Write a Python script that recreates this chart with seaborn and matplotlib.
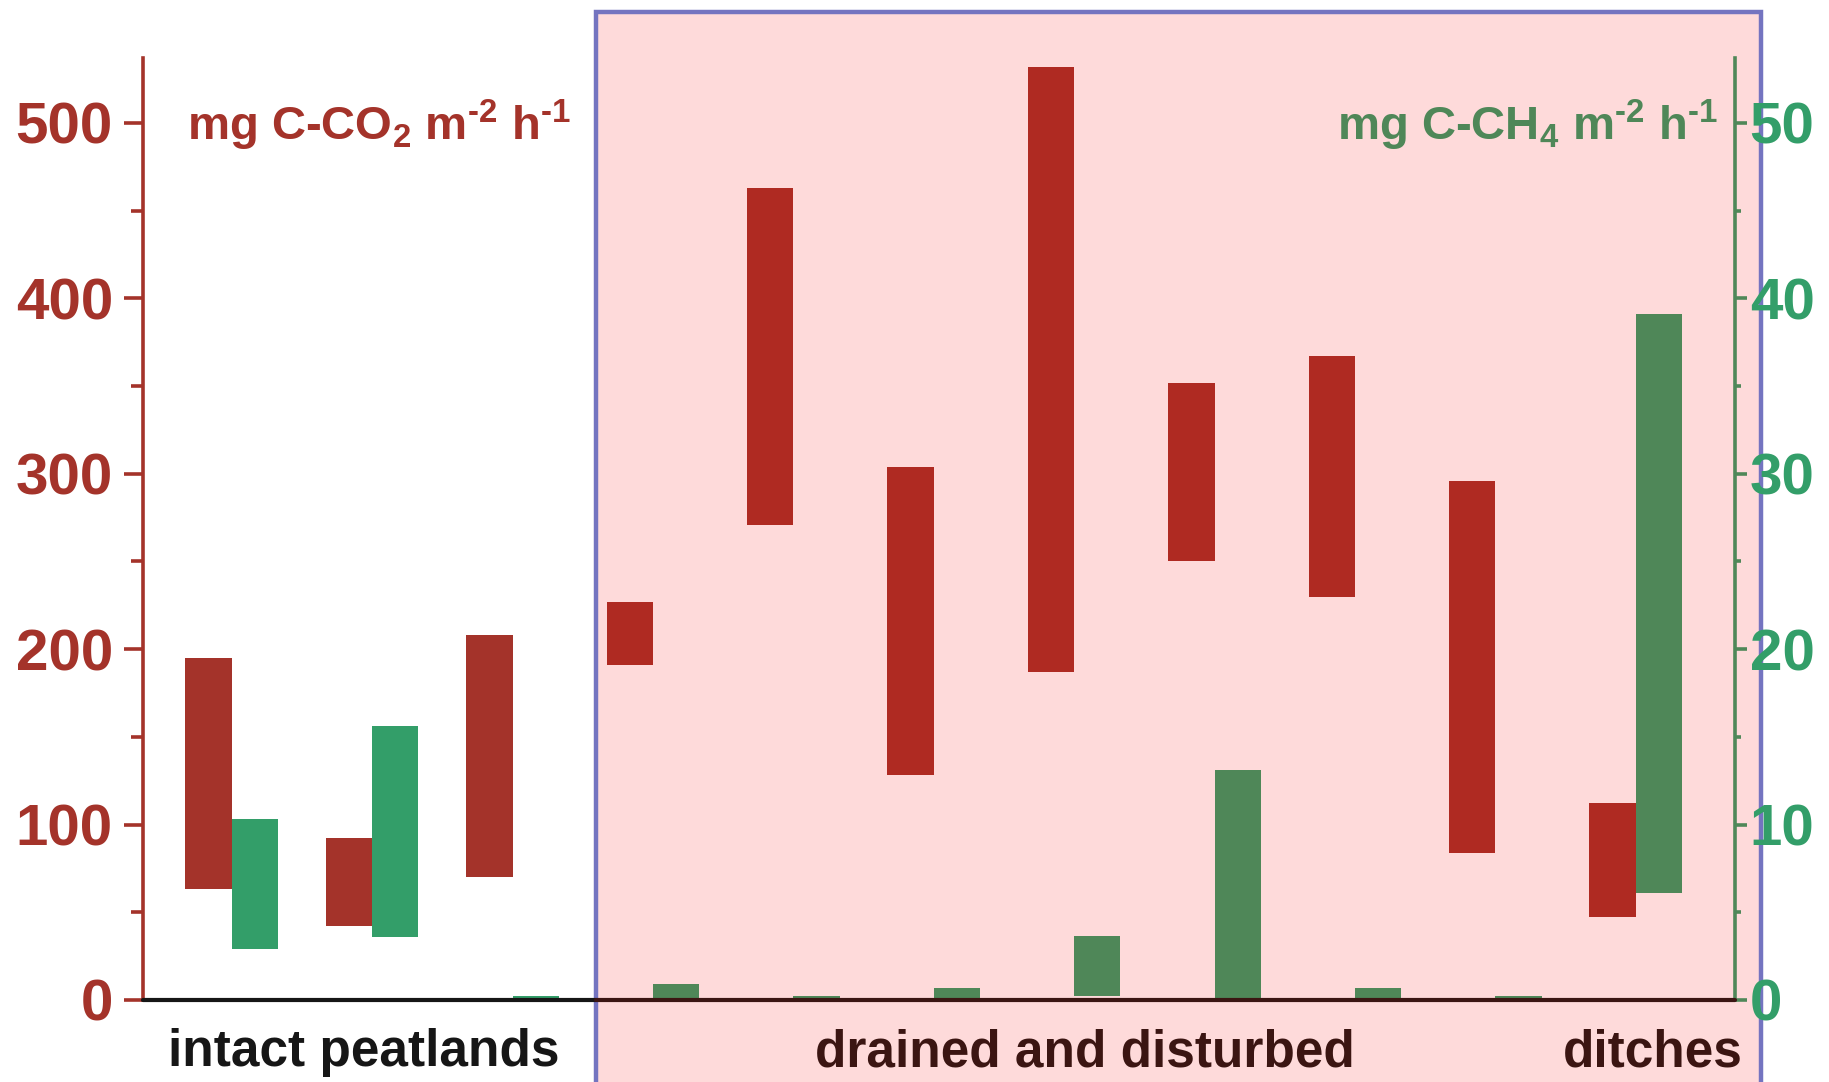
import numpy as np
import pandas as pd
import matplotlib
matplotlib.use("Agg")
import matplotlib.pyplot as plt
from matplotlib.patches import Rectangle
from matplotlib.ticker import MultipleLocator
import seaborn as sns

# site groups, one entry per site
groups = ["intact peatlands"] * 3 + ["drained and disturbed"] * 7 + ["ditches"]
group_labels = ["intact peatlands", "drained and disturbed", "ditches"]

# CO2 flux range, mg C-CO2 m-2 h-1
co2_low = [63, 42, 70, 191, 271, 128, 187, 250, 230, 84, 47.5]
co2_high = [195, 92.5, 208, 227, 463, 304, 532, 352, 367, 296, 112.5]

# CH4 flux range, mg C-CH4 m-2 h-1
ch4_low = [2.9, 3.6, 0, 0, 0, 0, 0.23, 0, 0, 0, 6.1]
ch4_high = [10.3, 15.6, 0.23, 0.91, 0.23, 0.68, 3.65, 13.1, 0.68, 0.23, 39.1]

red_intact, red_drained = "#A4332A", "#AF2A22"
green_intact, green_drained = "#339E69", "#4F8758"
axis_red, axis_green, label_green = "#A4332A", "#4F8758", "#339E69"

sns.set_theme(style="white")
plt.rcParams["font.family"] = ["Liberation Sans", "DejaVu Sans"]
plt.rcParams["mathtext.fontset"] = "custom"
plt.rcParams["mathtext.rm"] = "Liberation Sans:bold"
plt.rcParams["mathtext.default"] = "rm"

df = pd.DataFrame({"site": np.arange(len(groups)), "group": groups,
                   "co2_low": co2_low, "co2_high": co2_high,
                   "ch4_low": ch4_low, "ch4_high": ch4_high})
bw = 0.33
df["co2_x"] = df["site"] - bw / 2
df["ch4_x"] = df["site"] + bw / 2
df["co2_span"] = df["co2_high"] - df["co2_low"]
df["ch4_span"] = df["ch4_high"] - df["ch4_low"]

fig = plt.figure(figsize=(18.29, 10.82), dpi=100)
fig.patch.set_facecolor("white")
ax = fig.add_axes([0.0782, 0.0758, 0.9486 - 0.0782, 0.9464 - 0.0758])
ax2 = ax.twinx()
for a in (ax, ax2):
    a.patch.set_facecolor("none")

# pink box around the drained sites and ditches
fig.add_artist(Rectangle((0.3259, -0.05), 0.9628 - 0.3259, 0.9892 + 0.05,
                         transform=fig.transFigure, facecolor="#FEDADA",
                         edgecolor="#7474C0", linewidth=3.2, zorder=-1))

sns.barplot(data=df, x="co2_x", y="co2_span", bottom=df["co2_low"], native_scale=True,
            width=bw, errorbar=None, saturation=1, linewidth=0, color=red_intact, ax=ax)
for patch, g in zip(ax.patches, groups):
    patch.set_facecolor(red_intact if g == "intact peatlands" else red_drained)

sns.barplot(data=df, x="ch4_x", y="ch4_span", bottom=df["ch4_low"], native_scale=True,
            width=bw, errorbar=None, saturation=1, linewidth=0, color=green_intact, ax=ax2)
for patch, g in zip(ax2.patches, groups):
    patch.set_facecolor(green_intact if g == "intact peatlands" else green_drained)

ax.set_xlim(-0.632, 10.707)
ax.set_ylim(0, 537)
ax2.set_ylim(0, 53.7)
for a in (ax, ax2):
    a.set_xlabel("")
    a.set_ylabel("")
    a.set_xticks([])
    for s in a.spines.values():
        s.set_visible(False)

ax.spines["left"].set_visible(True)
ax.spines["left"].set_color(axis_red)
ax.spines["left"].set_linewidth(2.6)
ax.yaxis.set_major_locator(MultipleLocator(100))
ax.yaxis.set_minor_locator(MultipleLocator(50))
ax.tick_params(axis="y", which="both", left=True, colors=axis_red, width=2.6, pad=8)
ax.tick_params(axis="y", which="major", length=13.7, labelsize=42)
ax.tick_params(axis="y", which="minor", length=8.6)
for t in ax.get_yticklabels():
    t.set_fontweight("bold")

ax2.spines["right"].set_visible(True)
ax2.spines["right"].set_color(axis_green)
ax2.spines["right"].set_linewidth(2.6)
ax2.yaxis.set_major_locator(MultipleLocator(10))
ax2.yaxis.set_minor_locator(MultipleLocator(5))
ax2.tick_params(axis="y", which="both", right=True, color=axis_green,
                labelcolor=label_green, width=2.6, pad=2)
ax2.tick_params(axis="y", which="major", length=8.6, labelsize=42)
ax2.tick_params(axis="y", which="minor", length=4.3)
for t in ax2.get_yticklabels():
    t.set_fontweight("bold")

# zero line, darker where it runs through the pink box
split = (0.3259 - 0.0782) / (0.9486 - 0.0782)
ax2.axhline(0, xmin=0, xmax=split, color="#161616", linewidth=3.0,
            zorder=5, clip_on=False)
ax2.axhline(0, xmin=split, xmax=1, color="#3B1512", linewidth=3.0,
            zorder=5, clip_on=False)

fig.text(0.102, 0.8707, r"mg C-CO$_2$ m$^{\text{-2}}$ h$^{\text{-1}}$", fontsize=34,
         fontweight="bold", color=axis_red, va="baseline")
fig.text(0.9394, 0.8707, r"mg C-CH$_4$ m$^{\text{-2}}$ h$^{\text{-1}}$", fontsize=34,
         fontweight="bold", color=axis_green, va="baseline", ha="right")

for label, xpos, col in zip(group_labels, [0.1987, 0.5934, 0.9037],
                            ["#161616", "#3B1512", "#3B1512"]):
    fig.text(xpos, 0.0145, label, fontsize=37, fontweight="bold", color=col,
             ha="center", va="baseline")

fig.savefig("out.png", dpi=100)
